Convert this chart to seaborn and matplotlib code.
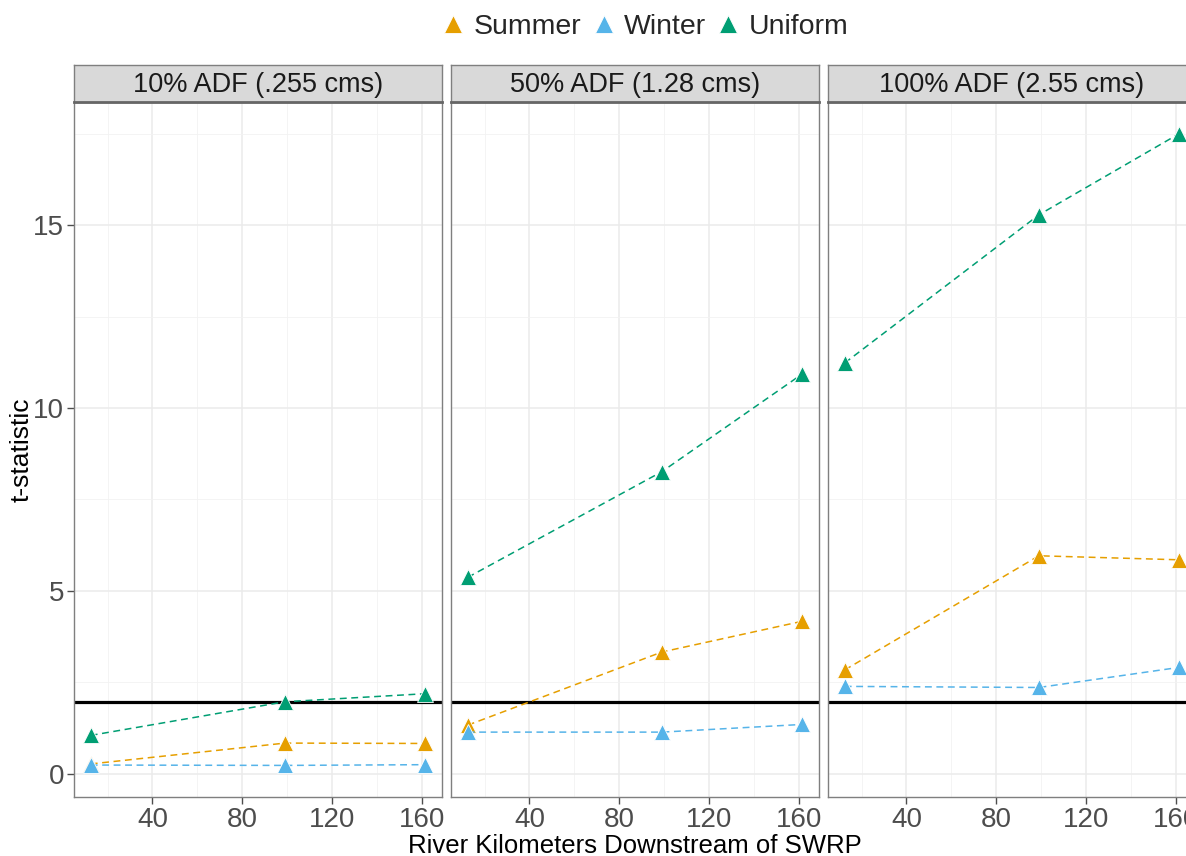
import matplotlib
matplotlib.use("Agg")
import matplotlib.pyplot as plt
import seaborn as sns
import pandas as pd
from matplotlib.lines import Line2D

sns.set_theme(style="white")
plt.rcParams['font.family'] = ['Liberation Sans', 'DejaVu Sans']

panels = ["10% ADF (.255 cms)", "50% ADF (1.28 cms)", "100% ADF (2.55 cms)"]
scenarios = ["Summer", "Winter", "Uniform"]
river_km = [12.5, 99, 161.5]

summer_vals = [[0.27, 0.84, 0.83], [1.33, 3.33, 4.17], [2.84, 5.96, 5.85]]
winter_vals = [[0.24, 0.23, 0.25], [1.14, 1.14, 1.35], [2.39, 2.36, 2.91]]
uniform_vals = [[1.05, 1.97, 2.19], [5.37, 8.26, 10.93], [11.23, 15.28, 17.5]]
critical_t = 1.96

colors = {"Summer": "#E69F00", "Winter": "#56B4E9", "Uniform": "#009E73"}

rows = []
for p_i, p in enumerate(panels):
    for s, vals in zip(scenarios, [summer_vals, winter_vals, uniform_vals]):
        for x, y in zip(river_km, vals[p_i]):
            rows.append({"panel": p, "scenario": s, "km": x, "t": y})
df = pd.DataFrame(rows)

W, H = 1186, 856
fig = plt.figure(figsize=(W / 100, H / 100), dpi=100)

lefts = [74, 451, 828]
pw = 368
top_px, bot_px = 102, 797
strip_top = 65

xmin = min(river_km) - 0.05 * (max(river_km) - min(river_km))
xmax = max(river_km) + 0.05 * (max(river_km) - min(river_km))
allv = summer_vals + winter_vals + uniform_vals
vmin = min(min(v) for v in allv)
vmax = max(max(v) for v in allv)
ymin = vmin - 0.05 * (vmax - vmin)
ymax = vmax + 0.05 * (vmax - vmin)

for i, p in enumerate(panels):
    ax = fig.add_axes([lefts[i] / W, 1 - bot_px / H, pw / W, (bot_px - top_px) / H])
    ax.set_facecolor("white")
    ax.set_xlim(xmin, xmax)
    ax.set_ylim(ymin, ymax)
    ax.set_xticks([40, 80, 120, 160])
    ax.set_xticks([20, 60, 100, 140], minor=True)
    ax.set_yticks([0, 5, 10, 15])
    ax.set_yticks([2.5, 7.5, 12.5, 17.5], minor=True)
    ax.grid(True, which="major", color="#EBEBEB", linewidth=1.1)
    ax.grid(True, which="minor", color="#F2F2F2", linewidth=0.6)
    ax.set_axisbelow(True)
    ax.axhline(critical_t, color="black", linewidth=2.3, zorder=2)
    sub = df[df["panel"] == p]
    for s in scenarios:
        ss = sub[sub["scenario"] == s]
        sns.lineplot(data=ss, x="km", y="t", color=colors[s], linestyle=(0, (4.5, 3)),
                     linewidth=1.1, marker="^", markersize=12, markeredgewidth=0.6,
                     markeredgecolor="white", ax=ax, legend=False, zorder=3)
    for sp in ax.spines.values():
        sp.set_color("#7F7F7F")
        sp.set_linewidth(1.0)
    ax.tick_params(axis="both", which="major", length=5, width=1, color="#4D4D4D",
                   labelsize=20, labelcolor="#4D4D4D", bottom=True, left=(i == 0), pad=2)
    ax.tick_params(which="minor", length=0)
    ax.set_xlabel("")
    ax.set_ylabel("")
    if i > 0:
        ax.set_yticklabels([])
    # strip
    sax = fig.add_axes([lefts[i] / W, 1 - top_px / H, pw / W, (top_px - strip_top) / H])
    sax.set_xticks([])
    sax.set_yticks([])
    sax.set_facecolor("#D9D9D9")
    for sp in sax.spines.values():
        sp.set_color("#7F7F7F")
        sp.set_linewidth(1.0)
    sax.spines["bottom"].set_color("#666666")
    sax.spines["bottom"].set_linewidth(2)
    sax.text(0.5, 0.45, p, ha="center", va="center", fontsize=19.5, color="#1A1A1A",
             transform=sax.transAxes)

fig.text(635 / W, 1 - 846 / H, "River Kilometers Downstream of SWRP", ha="center",
         va="center", fontsize=18.5, color="black")
fig.text(22 / W, 1 - 450 / H, "t-statistic", ha="center", va="center", rotation=90,
         fontsize=19, color="black")

handles = [Line2D([0], [0], color=colors[s], marker="^", linestyle="none", markersize=13,
                  markeredgecolor="white", markeredgewidth=0.6) for s in scenarios]
fig.legend(handles, scenarios, loc="center", bbox_to_anchor=(645 / W, 1 - 27 / H), ncol=3,
           frameon=False, fontsize=20.5, handlelength=0.8, handletextpad=0.3,
           columnspacing=0.4)

fig.savefig("out.png", dpi=100)
